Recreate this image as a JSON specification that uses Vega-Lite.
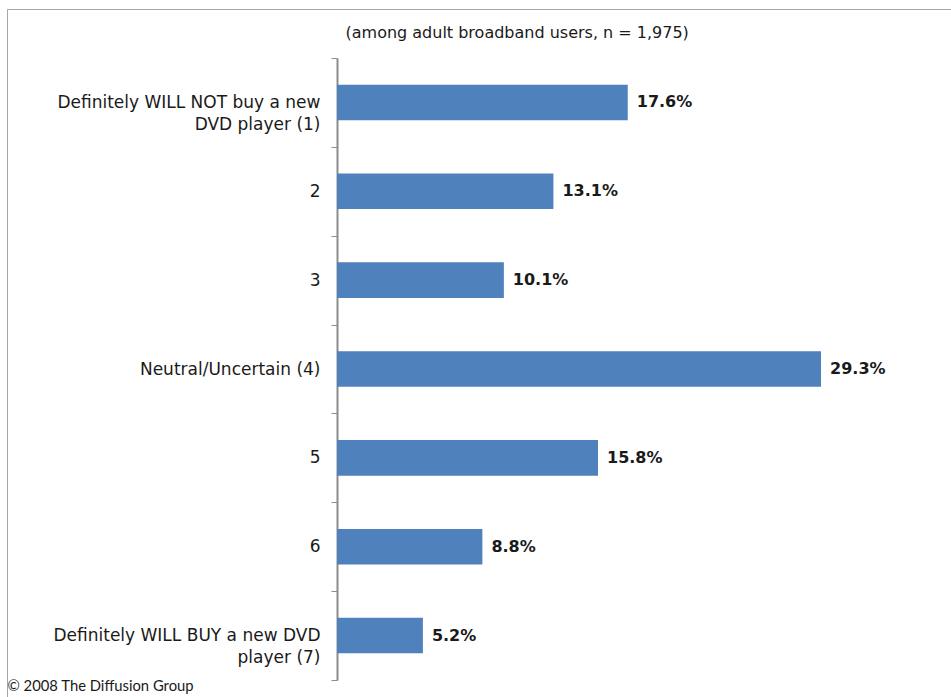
{
  "$schema": "https://vega.github.io/schema/vega-lite/v6.json",
  "width": 944,
  "height": 688,
  "autosize": {"type": "none"},
  "padding": {"left": 7, "top": 9, "right": 0, "bottom": 0},
  "background": "white",
  "config": {
    "view": {"stroke": "#a6a6a6", "strokeWidth": 1},
    "font": "DejaVu Sans"
  },
  "data": {
    "values": [
      {"response": "Definitely WILL NOT buy a new DVD player (1)", "share": 0.176},
      {"response": "2", "share": 0.131},
      {"response": "3", "share": 0.101},
      {"response": "Neutral/Uncertain (4)", "share": 0.293},
      {"response": "5", "share": 0.158},
      {"response": "6", "share": 0.088},
      {"response": "Definitely WILL BUY a new DVD player (7)", "share": 0.052}
    ]
  },
  "encoding": {
    "y": {
      "field": "response",
      "type": "nominal",
      "sort": null,
      "scale": {"range": [49, 671], "paddingInner": 0, "paddingOuter": 0},
      "axis": {
        "title": null,
        "offset": -330,
        "domainColor": "#8c8c8c",
        "domainWidth": 2,
        "tickColor": "#8c8c8c",
        "tickWidth": 1,
        "tickSize": 6,
        "tickBand": "extent",
        "labelPadding": 11,
        "labelFont": "DejaVu Sans",
        "labelFontSize": 17,
        "labelColor": "#1a1a1a",
        "labelLineHeight": 22,
        "labelLimit": 400,
        "labelExpr": "datum.value == 'Definitely WILL NOT buy a new DVD player (1)' ? ['Definitely WILL NOT buy a new', 'DVD player (1)'] : datum.value == 'Definitely WILL BUY a new DVD player (7)' ? ['Definitely WILL BUY a new DVD', 'player (7)'] : datum.value"
      }
    },
    "x": {
      "field": "share",
      "type": "quantitative",
      "scale": {"domain": [0, 0.3], "range": [330, 825.6], "nice": false}
    }
  },
  "layer": [
    {
      "mark": {"type": "bar", "color": "#4f81bd", "height": {"band": 0.4}},
      "encoding": {
        "x": {
          "field": "share",
          "type": "quantitative",
          "axis": {
            "orient": "bottom",
            "domain": false,
            "ticks": false,
            "labels": false,
            "grid": false,
            "title": "© 2008 The Diffusion Group",
            "titleFont": "Lato",
            "titleFontSize": 14.8,
            "titleFontWeight": "normal",
            "titleColor": "#1a1a1a",
            "titleAnchor": "start",
            "titleAlign": "left",
            "titleBaseline": "middle",
            "titleX": 0,
            "titleY": -11
          }
        }
      }
    },
    {
      "mark": {"type": "text", "align": "left", "baseline": "middle", "dx": 9, "fontSize": 16, "fontWeight": "bold", "font": "DejaVu Sans", "color": "#1a1a1a"},
      "encoding": {
        "text": {"field": "share", "type": "quantitative", "format": ".1%"},
        "x": {
          "field": "share",
          "type": "quantitative",
          "axis": {
            "orient": "top",
            "domain": false,
            "ticks": false,
            "labels": false,
            "grid": false,
            "title": "(among adult broadband users, n = 1,975)",
            "titleFont": "DejaVu Sans",
            "titleFontSize": 16,
            "titleFontWeight": "normal",
            "titleColor": "#1a1a1a",
            "titleAnchor": "start",
            "titleAlign": "left",
            "titleBaseline": "middle",
            "titleX": 338,
            "titleY": 23
          }
        }
      }
    }
  ],
  "resolve": {"axis": {"x": "independent"}}
}
